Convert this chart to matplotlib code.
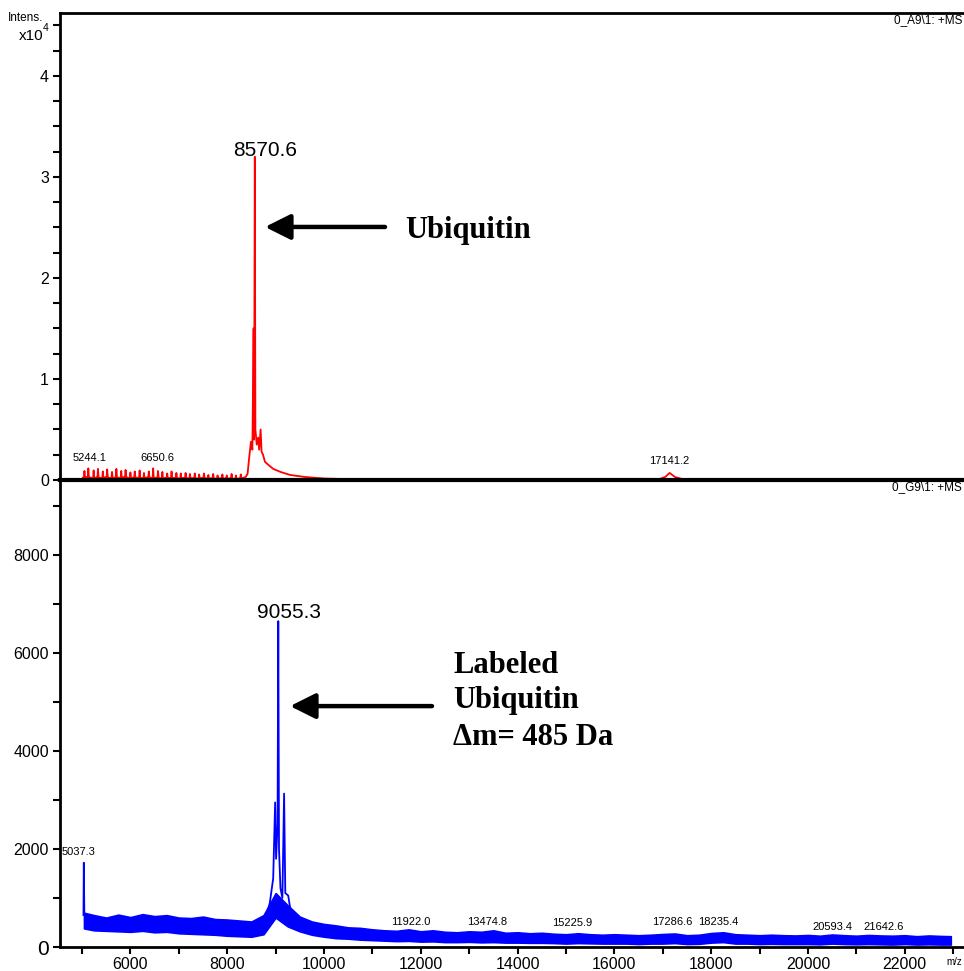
import numpy as np
import matplotlib.pyplot as plt
from matplotlib.ticker import MultipleLocator

plt.rcParams["font.family"] = ["Liberation Sans", "DejaVu Sans"]
SERIF = ["Liberation Serif", "DejaVu Serif"]

# ---- top spectrum: 0_A9\1 (ubiquitin), intensities in counts ----
a9_spike_mz = [5050, 5130, 5240, 5330, 5430, 5520, 5620, 5710, 5810, 5900,
               6000, 6090, 6190, 6280, 6380, 6470, 6570, 6660, 6760, 6850,
               6950, 7040, 7140, 7230, 7330, 7420, 7520, 7610, 7710, 7800,
               7900, 7990, 8090, 8180, 8280]
a9_spike_int = [900, 1150, 950, 1100, 850, 1050, 800, 1100, 900, 1000,
                750, 850, 950, 700, 850, 1150, 900, 800, 650, 850,
                700, 650, 700, 600, 650, 550, 650, 500, 600, 450,
                550, 450, 600, 450, 550]
a9_base_int = [220, 300, 180, 260, 200, 280, 170, 250, 210, 300,
               190, 240, 220, 180, 260, 200, 230, 170, 210, 190,
               200, 160, 220, 170, 190, 150, 200, 160, 170, 140,
               180, 150, 160, 130, 150]
a9_peak_mz = [8380, 8420, 8460, 8490, 8520, 8545, 8555, 8570, 8582, 8610,
              8640, 8660, 8690, 8710, 8740, 8780, 8850, 8950, 9100, 9300,
              9600, 10000, 10500, 11000, 16900, 17050, 17141, 17250, 17400, 23000]
a9_peak_int = [300, 600, 2500, 3800, 3000, 15000, 4000, 32000, 5000, 3500,
               4200, 3000, 5000, 2800, 2500, 1800, 1500, 1100, 800, 500,
               300, 150, 80, 50, 50, 300, 700, 300, 100, 50]
a9_labels = ["5244.1", "6650.6", "17141.2"]
a9_label_mz = [5165, 6550, 17130]
a9_label_int = [2180, 2180, 1880]

# ---- bottom spectrum: 0_G9\1 (labeled ubiquitin) ----
g9_band_mz = [5040, 5250, 5500, 5750, 6000, 6250, 6500, 6750, 7000, 7250,
              7500, 7750, 8000, 8250, 8500, 8750, 9000, 9250, 9500, 9750,
              10000, 10250, 10500, 10750, 11000, 11250, 11500, 11750, 12000, 12250,
              12500, 12750, 13000, 13250, 13500, 13750, 14000, 14250, 14500, 14750,
              15000, 15250, 15500, 15750, 16000, 16250, 16500, 16750, 17000, 17250,
              17500, 17750, 18000, 18250, 18500, 18750, 19000, 19250, 19500, 19750,
              20000, 20250, 20500, 20750, 21000, 21250, 21500, 21750, 22000, 22250,
              22500, 22750, 22950]
g9_band_high = [700, 650, 600, 660, 610, 670, 630, 650, 600, 590,
                620, 570, 560, 540, 520, 650, 1100, 850, 620, 520,
                470, 440, 400, 390, 360, 340, 330, 360, 320, 340,
                310, 300, 320, 310, 340, 290, 300, 280, 290, 270,
                260, 280, 260, 250, 260, 250, 240, 250, 265, 275,
                240, 250, 285, 300, 260, 250, 240, 250, 240, 235,
                245, 230, 255, 240, 230, 245, 235, 230, 240, 220,
                235, 225, 220]
g9_band_low = [380, 340, 330, 320, 310, 330, 300, 310, 280, 270,
               260, 250, 230, 220, 210, 260, 600, 420, 320, 250,
               210, 180, 170, 150, 140, 130, 120, 125, 110, 115,
               100, 100, 105, 95, 100, 90, 90, 85, 85, 80,
               70, 80, 75, 70, 70, 70, 60, 70, 70, 80,
               60, 65, 90, 100, 70, 70, 60, 65, 60, 60,
               60, 55, 70, 60, 55, 60, 55, 50, 60, 50,
               55, 50, 50]
g9_start_mz = [5030, 5037, 5048]
g9_start_int = [650, 1720, 650]
g9_peak_mz = [8700, 8800, 8880, 8950, 8990, 9010, 9040, 9055, 9070, 9100,
              9140, 9175, 9200, 9260, 9300, 9400, 9500]
g9_peak_int = [450, 600, 900, 1400, 2950, 1800, 2500, 6650, 2000, 1200,
               1000, 3130, 1100, 1050, 800, 600, 500]
g9_labels = ["5037.3", "11922.0", "13474.8", "15225.9", "17286.6",
             "18235.4", "20593.4", "21642.6"]
g9_label_mz = [4920, 11800, 13370, 15120, 17190, 18140, 20500, 21570]
g9_label_int = [1940, 510, 510, 490, 510, 510, 410, 410]


def spikes_to_trace(mz, heights, bases, half_width=12):
    xs, ys = [], []
    for m, h, b in zip(mz, heights, bases):
        xs += [m - 3 * half_width, m - half_width, m, m + half_width]
        ys += [b, b * 0.8, h, b]
    return xs, ys


W, H = 964, 971
fig = plt.figure(figsize=(W / 100, H / 100), dpi=100)
ax1 = fig.add_axes([60 / W, 1 - 480 / H, 904 / W, 467 / H])
ax2 = fig.add_axes([60 / W, 1 - 947 / H, 904 / W, 467 / H])
ax1.set_zorder(2)
ax1.patch.set_alpha(0)

# top trace
xs, ys = spikes_to_trace(a9_spike_mz, a9_spike_int, a9_base_int)
ax1.plot(xs + a9_peak_mz, ys + a9_peak_int, color="#ff0000", lw=1.3)
for lab, m, i in zip(a9_labels, a9_label_mz, a9_label_int):
    ax1.text(m, i, lab, fontsize=8, ha="center", va="center")
ax1.text(8780, 32600, "8570.6", fontsize=15, ha="center", va="center")
ax1.annotate("", xy=(8781, 25050), xytext=(11260, 25050),
             arrowprops=dict(arrowstyle="-|>,head_length=0.7,head_width=0.35",
                             lw=3.2, color="black", shrinkA=0, shrinkB=0,
                             mutation_scale=22))
ax1.text(11674, 24650, "Ubiquitin", family=SERIF, fontweight="bold",
         fontsize=22, ha="left", va="center")

# bottom trace
ax2.fill_between(g9_band_mz, g9_band_low, g9_band_high, color="#0000ff",
                 lw=1.2, edgecolor="#0000ff")
ax2.plot(g9_start_mz, g9_start_int, color="#0000ff", lw=1.3)
ax2.plot(g9_peak_mz, g9_peak_int, color="#0000ff", lw=1.3)
for lab, m, i in zip(g9_labels, g9_label_mz, g9_label_int):
    ax2.text(m, i, lab, fontsize=8, ha="center", va="center")
ax2.text(9280, 6830, "9055.3", fontsize=15, ha="center", va="center")
ax2.annotate("", xy=(9298, 4916), xytext=(12231, 4916),
             arrowprops=dict(arrowstyle="-|>,head_length=0.7,head_width=0.35",
                             lw=3.2, color="black", shrinkA=0, shrinkB=0,
                             mutation_scale=22))
for txt, i in zip(["Labeled", "Ubiquitin", "\u0394m= 485 Da"], [5753, 5039, 4284]):
    ax2.text(12665, i, txt, family=SERIF, fontweight="bold", fontsize=22,
             ha="left", va="center")

# axes styling
for ax in (ax1, ax2):
    ax.set_xlim(4545, 23223)
    ax.spines["right"].set_visible(False)
    ax.spines["left"].set_linewidth(2)
    ax.tick_params(axis="y", which="major", direction="out", length=5,
                   width=1.5, labelsize=11.5, pad=3)
    ax.tick_params(axis="y", which="minor", direction="out", length=5, width=1.5)
    ax.xaxis.set_major_locator(MultipleLocator(2000))
    ax.xaxis.set_minor_locator(MultipleLocator(1000))

ax1.set_ylim(0, 46230)
ax1.set_yticks([0, 10000, 20000, 30000, 40000])
ax1.set_yticklabels(["0", "1", "2", "3", "4"])
ax1.yaxis.set_minor_locator(MultipleLocator(2500))
ax1.spines["top"].set_linewidth(2)
ax1.spines["bottom"].set_linewidth(3)
ax1.tick_params(axis="x", which="both", bottom=False, labelbottom=False)

ax2.set_ylim(0, 9530)
ax2.set_yticks([0, 2000, 4000, 6000, 8000])
ax2.yaxis.set_minor_locator(MultipleLocator(1000))
ax2.spines["top"].set_visible(False)
ax2.spines["bottom"].set_linewidth(2)
ax2.tick_params(axis="x", which="both", direction="out", length=5, width=1.5,
                labelsize=11.5, pad=2)
ax2.get_yticklabels()[0].set_fontsize(15)

# header texts
fig.text(8 / W, 1 - 18 / H, "Intens.", fontsize=8.5, ha="left", va="center")
fig.text(19 / W, 1 - 36 / H, "x10", fontsize=11, ha="left", va="center")
fig.text(43 / W, 1 - 28 / H, "4", fontsize=7.5, ha="left", va="center")
fig.text(962 / W, 1 - 20 / H, "0_A9\\1: +MS", fontsize=8.5, ha="right", va="center")
fig.text(962 / W, 1 - 487 / H, "0_G9\\1: +MS", fontsize=8.5, ha="right", va="center")
fig.text(954 / W, 1 - 962 / H, "m/z", fontsize=7, ha="center", va="center")

fig.savefig("out.png", dpi=100)
